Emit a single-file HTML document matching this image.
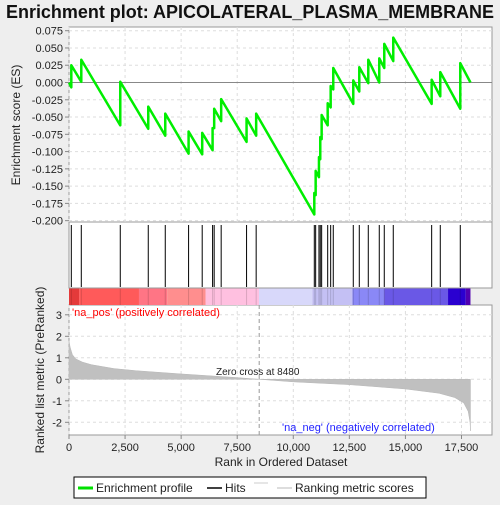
<!DOCTYPE html>
<html><head><meta charset="utf-8"><style>
body{margin:0;background:#eeeeee;font-family:"Liberation Sans","DejaVu Sans",sans-serif;}
svg text{font-family:"Liberation Sans","DejaVu Sans",sans-serif;}
</style></head><body>
<svg id="c" width="500" height="500" xmlns="http://www.w3.org/2000/svg">
<rect width="500" height="500" fill="#eeeeee"/>
<text x="250" y="18" text-anchor="middle" font-size="18" font-weight="bold" fill="#111" textLength="488" lengthAdjust="spacingAndGlyphs">Enrichment plot: APICOLATERAL_PLASMA_MEMBRANE</text>
<rect x="69" y="27" width="423" height="195" fill="#fff" stroke="#999"/>
<rect x="69" y="222" width="423" height="66" fill="#fff" stroke="#999"/>
<rect x="69" y="305" width="423" height="130" fill="#fff" stroke="#999"/>
<g id="grid"></g><g id="colorbar"></g><g id="hits"></g><g id="metric"></g><g id="es"></g><g id="axes"></g>
<text x="20" y="125" transform="rotate(-90 20 125)" text-anchor="middle" font-size="12" fill="#222">Enrichment score (ES)</text>
<text x="44" y="370" transform="rotate(-90 44 370)" text-anchor="middle" font-size="12" fill="#222">Ranked list metric (PreRanked)</text>
<text x="281" y="466" text-anchor="middle" font-size="12" fill="#222">Rank in Ordered Dataset</text>
<text x="72" y="316" font-size="11" fill="#f00">'na_pos' (positively correlated)</text>
<text x="282" y="431" font-size="11" fill="#22f">'na_neg' (negatively correlated)</text>
<text x="216" y="375" font-size="10" fill="#222">Zero cross at 8480</text>
<g>
<rect x="74" y="477" width="352" height="21" fill="#fff" stroke="#000"/>
<line x1="78" y1="488" x2="93" y2="488" stroke="#00e000" stroke-width="3"/>
<text x="96" y="492" font-size="12" fill="#222">Enrichment profile</text>
<line x1="207" y1="488" x2="222" y2="488" stroke="#000" stroke-width="1.5"/>
<text x="225" y="492" font-size="12" fill="#222">Hits</text>
<line x1="254" y1="483" x2="268" y2="483" stroke="#ccc"/>
<line x1="277" y1="488" x2="292" y2="488" stroke="#bbb"/>
<text x="295" y="492" font-size="12" fill="#222">Ranking metric scores</text>
</g>
</svg>
<script>
const hitRanks=[103,548,2286,3534,4292,5332,5939,6402,6473,6785,7917,8345,10937,10998,11145,11203,11265,11534,11667,11783,12675,12943,13344,13834,14057,14458,16170,16554,17446];
const esBefore=[-0.007,0.001,-0.062,-0.067,-0.077,-0.103,-0.104,-0.098,-0.066,-0.056,-0.086,-0.077,-0.191,-0.163,-0.137,-0.111,-0.082,-0.062,-0.036,-0.010,-0.031,-0.013,-0.001,0.000,0.021,0.031,-0.031,-0.020,-0.038];
const esAfter=[0.025,0.033,0.001,-0.035,-0.045,-0.071,-0.073,-0.066,-0.038,-0.024,-0.052,-0.045,-0.160,-0.128,-0.108,-0.079,-0.047,-0.030,-0.005,0.021,0.003,0.022,0.033,0.035,0.056,0.065,0.004,0.015,0.028];
const esEnd=0.0, nTotal=17900;
const metricRanks=[0,50,150,300,600,1000,2000,3000,5000,7500,8480,10000,12500,15000,16500,17200,17600,17800,17880,17900];
const metricVals=[1.8,1.5,1.15,0.95,0.8,0.68,0.5,0.4,0.25,0.08,0,-0.12,-0.25,-0.45,-0.65,-0.85,-1.1,-1.5,-2.0,-2.4];
const esTicks=[0.075,0.05,0.025,0,-0.025,-0.05,-0.075,-0.1,-0.125,-0.15,-0.175,-0.2];
const metricTicks=[3,2,1,0,-1,-2];
const xTicks=[0,2500,5000,7500,10000,12500,15000,17500];
const barEdges=[0,450,3120,4380,6090,8470,10850,12640,14050,16900,17690,17900];
const barColors=["#e43a3a","#ff5a5a","#ff7585","#ff8e8e","#ffc0e0","#d8d8fa","#c4c0f4","#8a88f6","#6a58e6","#2a00d0","#5000b0"];
const NS="http://www.w3.org/2000/svg";
const X=r=>69+r*0.022428;
const YE=v=>82.5-v/0.025*17.27;
const YM=v=>379.3-v*21.5;
function mk(p,t,a){const e=document.createElementNS(NS,t);for(const k in a)e.setAttribute(k,a[k]);document.getElementById(p).appendChild(e);return e;}
xTicks.forEach(t=>{
 const g1=mk('grid','line',{x1:X(t),x2:X(t),y1:27,y2:222,stroke:'#ddd','stroke-dasharray':'3,3'});
 
 
 const g2=mk('grid','line',{x1:X(t),x2:X(t),y1:305,y2:435,stroke:'#ddd','stroke-dasharray':'3,3'});
 
 
 mk('axes','line',{x1:X(t),x2:X(t),y1:435,y2:439,stroke:'#888'});
 const tx=mk('axes','text',{x:X(t),y:451,'text-anchor':'middle','font-size':'11',fill:'#222'});
 tx.textContent=t.toLocaleString('en-US');
 
 
});
esTicks.forEach(t=>{
 const g=mk('grid','line',{x1:69,x2:492,y1:YE(t),y2:YE(t),stroke:'#ddd','stroke-dasharray':'3,3'});
 
 
 mk('axes','line',{x1:65,x2:69,y1:YE(t),y2:YE(t),stroke:'#888'});
 const tx=mk('axes','text',{x:63,y:YE(t)+4,'text-anchor':'end','font-size':'11',fill:'#222'});
 tx.textContent=t.toFixed(3);
 
 
});
metricTicks.forEach(t=>{
 const g=mk('grid','line',{x1:69,x2:492,y1:YM(t),y2:YM(t),stroke:'#ddd','stroke-dasharray':'3,3'});
 
 
 mk('axes','line',{x1:65,x2:69,y1:YM(t),y2:YM(t),stroke:'#888'});
 const tx=mk('axes','text',{x:62,y:YM(t)+4,'text-anchor':'end','font-size':'11',fill:'#222'});
 tx.textContent=t;
 
 
});
const z=mk('grid','line',{x1:69,x2:492,y1:YE(0),y2:YE(0),stroke:'#888'});


const zc=mk('grid','line',{x1:X(8480),x2:X(8480),y1:305,y2:435,stroke:'#999','stroke-dasharray':'4,3'});


for(let i=0;i<barColors.length;i++){
 const r=mk('colorbar','rect',{x:X(barEdges[i]),y:288.5,width:X(barEdges[i+1])-X(barEdges[i]),height:16.5,fill:barColors[i]});
 
 
}
hitRanks.forEach(h=>{
 const l=mk('hits','line',{x1:X(h),x2:X(h),y1:225,y2:287,stroke:'#000','stroke-width':'1'});
 
 
 const l2=mk('colorbar','line',{x1:X(h),x2:X(h),y1:288.5,y2:305,stroke:'rgba(0,0,0,0.15)'});
 
 
});
let d='M'+X(metricRanks[0])+','+YM(0);
metricRanks.forEach((r,i)=>{d+=' L'+X(r)+','+YM(metricVals[i]);});
d+=' L'+X(metricRanks[metricRanks.length-1])+','+YM(0)+' Z';
const m=mk('metric','path',{d:d,fill:'#c0c0c0',stroke:'#b8b8b8','stroke-width':'0.5'});


let pts=[[X(0),YE(0)]];
hitRanks.forEach((h,i)=>{pts.push([X(h),YE(esBefore[i])]);pts.push([X(h),YE(esAfter[i])]);});
pts.push([X(nTotal),YE(esEnd)]);
const es=mk('es','polyline',{points:pts.map(p=>p.join(',')).join(' '),fill:'none',stroke:'#00ee00','stroke-width':'2.5','stroke-linejoin':'round'});


</script>
</body></html>
